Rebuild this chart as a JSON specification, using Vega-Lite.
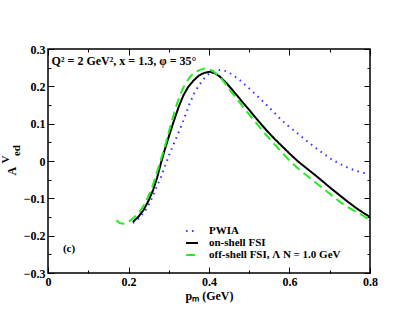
{
  "$schema": "https://vega.github.io/schema/vega-lite/v6.json",
  "width": 322,
  "height": 224,
  "autosize": "none",
  "padding": {"left": 48, "top": 49, "right": 47, "bottom": 49},
  "background": "white",
  "config": {
    "view": {"stroke": "black", "strokeWidth": 1.5},
    "font": "Liberation Serif",
    "axis": {
      "labelFont": "Liberation Serif", "labelFontWeight": "bold", "labelFontSize": 12, "labelColor": "black",
      "titleFont": "Liberation Serif", "titleFontWeight": "bold", "titleFontSize": 12, "titleColor": "black",
      "domain": false, "grid": false, "tickColor": "black", "tickWidth": 1
    }
  },
  "datasets": {
    "curves": [
      {"p": 0.211, "A": -0.166, "model": "PWIA"},
      {"p": 0.216, "A": -0.163, "model": "PWIA"},
      {"p": 0.229, "A": -0.150, "model": "PWIA"},
      {"p": 0.245, "A": -0.128, "model": "PWIA"},
      {"p": 0.258, "A": -0.100, "model": "PWIA"},
      {"p": 0.270, "A": -0.069, "model": "PWIA"},
      {"p": 0.280, "A": -0.045, "model": "PWIA"},
      {"p": 0.290, "A": -0.016, "model": "PWIA"},
      {"p": 0.303, "A": 0.022, "model": "PWIA"},
      {"p": 0.320, "A": 0.065, "model": "PWIA"},
      {"p": 0.332, "A": 0.096, "model": "PWIA"},
      {"p": 0.343, "A": 0.128, "model": "PWIA"},
      {"p": 0.353, "A": 0.157, "model": "PWIA"},
      {"p": 0.365, "A": 0.185, "model": "PWIA"},
      {"p": 0.377, "A": 0.206, "model": "PWIA"},
      {"p": 0.390, "A": 0.224, "model": "PWIA"},
      {"p": 0.404, "A": 0.237, "model": "PWIA"},
      {"p": 0.419, "A": 0.243, "model": "PWIA"},
      {"p": 0.432, "A": 0.244, "model": "PWIA"},
      {"p": 0.444, "A": 0.240, "model": "PWIA"},
      {"p": 0.460, "A": 0.230, "model": "PWIA"},
      {"p": 0.477, "A": 0.216, "model": "PWIA"},
      {"p": 0.494, "A": 0.200, "model": "PWIA"},
      {"p": 0.510, "A": 0.184, "model": "PWIA"},
      {"p": 0.527, "A": 0.167, "model": "PWIA"},
      {"p": 0.543, "A": 0.150, "model": "PWIA"},
      {"p": 0.560, "A": 0.132, "model": "PWIA"},
      {"p": 0.576, "A": 0.114, "model": "PWIA"},
      {"p": 0.597, "A": 0.094, "model": "PWIA"},
      {"p": 0.618, "A": 0.076, "model": "PWIA"},
      {"p": 0.638, "A": 0.058, "model": "PWIA"},
      {"p": 0.659, "A": 0.040, "model": "PWIA"},
      {"p": 0.684, "A": 0.020, "model": "PWIA"},
      {"p": 0.705, "A": 0.004, "model": "PWIA"},
      {"p": 0.726, "A": -0.008, "model": "PWIA"},
      {"p": 0.747, "A": -0.019, "model": "PWIA"},
      {"p": 0.767, "A": -0.027, "model": "PWIA"},
      {"p": 0.785, "A": -0.032, "model": "PWIA"},
      {"p": 0.800, "A": -0.035, "model": "PWIA"},

      {"p": 0.211, "A": -0.163, "model": "on-shell FSI"},
      {"p": 0.224, "A": -0.150, "model": "on-shell FSI"},
      {"p": 0.237, "A": -0.132, "model": "on-shell FSI"},
      {"p": 0.249, "A": -0.108, "model": "on-shell FSI"},
      {"p": 0.261, "A": -0.078, "model": "on-shell FSI"},
      {"p": 0.271, "A": -0.045, "model": "on-shell FSI"},
      {"p": 0.280, "A": -0.008, "model": "on-shell FSI"},
      {"p": 0.290, "A": 0.030, "model": "on-shell FSI"},
      {"p": 0.300, "A": 0.065, "model": "on-shell FSI"},
      {"p": 0.312, "A": 0.105, "model": "on-shell FSI"},
      {"p": 0.324, "A": 0.143, "model": "on-shell FSI"},
      {"p": 0.336, "A": 0.175, "model": "on-shell FSI"},
      {"p": 0.348, "A": 0.198, "model": "on-shell FSI"},
      {"p": 0.361, "A": 0.215, "model": "on-shell FSI"},
      {"p": 0.375, "A": 0.229, "model": "on-shell FSI"},
      {"p": 0.388, "A": 0.236, "model": "on-shell FSI"},
      {"p": 0.402, "A": 0.239, "model": "on-shell FSI"},
      {"p": 0.415, "A": 0.235, "model": "on-shell FSI"},
      {"p": 0.427, "A": 0.226, "model": "on-shell FSI"},
      {"p": 0.443, "A": 0.209, "model": "on-shell FSI"},
      {"p": 0.460, "A": 0.188, "model": "on-shell FSI"},
      {"p": 0.480, "A": 0.162, "model": "on-shell FSI"},
      {"p": 0.502, "A": 0.134, "model": "on-shell FSI"},
      {"p": 0.522, "A": 0.108, "model": "on-shell FSI"},
      {"p": 0.543, "A": 0.082, "model": "on-shell FSI"},
      {"p": 0.564, "A": 0.058, "model": "on-shell FSI"},
      {"p": 0.585, "A": 0.036, "model": "on-shell FSI"},
      {"p": 0.601, "A": 0.019, "model": "on-shell FSI"},
      {"p": 0.622, "A": -0.002, "model": "on-shell FSI"},
      {"p": 0.643, "A": -0.020, "model": "on-shell FSI"},
      {"p": 0.664, "A": -0.038, "model": "on-shell FSI"},
      {"p": 0.684, "A": -0.056, "model": "on-shell FSI"},
      {"p": 0.705, "A": -0.075, "model": "on-shell FSI"},
      {"p": 0.726, "A": -0.093, "model": "on-shell FSI"},
      {"p": 0.747, "A": -0.111, "model": "on-shell FSI"},
      {"p": 0.767, "A": -0.127, "model": "on-shell FSI"},
      {"p": 0.785, "A": -0.140, "model": "on-shell FSI"},
      {"p": 0.800, "A": -0.150, "model": "on-shell FSI"},

      {"p": 0.170, "A": -0.159, "model": "off-shell"},
      {"p": 0.178, "A": -0.166, "model": "off-shell"},
      {"p": 0.187, "A": -0.168, "model": "off-shell"},
      {"p": 0.200, "A": -0.163, "model": "off-shell"},
      {"p": 0.215, "A": -0.150, "model": "off-shell"},
      {"p": 0.232, "A": -0.130, "model": "off-shell"},
      {"p": 0.245, "A": -0.105, "model": "off-shell"},
      {"p": 0.257, "A": -0.076, "model": "off-shell"},
      {"p": 0.268, "A": -0.040, "model": "off-shell"},
      {"p": 0.278, "A": -0.005, "model": "off-shell"},
      {"p": 0.290, "A": 0.037, "model": "off-shell"},
      {"p": 0.307, "A": 0.105, "model": "off-shell"},
      {"p": 0.318, "A": 0.145, "model": "off-shell"},
      {"p": 0.328, "A": 0.177, "model": "off-shell"},
      {"p": 0.340, "A": 0.205, "model": "off-shell"},
      {"p": 0.353, "A": 0.226, "model": "off-shell"},
      {"p": 0.365, "A": 0.238, "model": "off-shell"},
      {"p": 0.377, "A": 0.244, "model": "off-shell"},
      {"p": 0.390, "A": 0.248, "model": "off-shell"},
      {"p": 0.401, "A": 0.246, "model": "off-shell"},
      {"p": 0.413, "A": 0.238, "model": "off-shell"},
      {"p": 0.427, "A": 0.226, "model": "off-shell"},
      {"p": 0.440, "A": 0.208, "model": "off-shell"},
      {"p": 0.452, "A": 0.190, "model": "off-shell"},
      {"p": 0.473, "A": 0.161, "model": "off-shell"},
      {"p": 0.494, "A": 0.132, "model": "off-shell"},
      {"p": 0.515, "A": 0.105, "model": "off-shell"},
      {"p": 0.535, "A": 0.078, "model": "off-shell"},
      {"p": 0.556, "A": 0.053, "model": "off-shell"},
      {"p": 0.576, "A": 0.029, "model": "off-shell"},
      {"p": 0.601, "A": 0.000, "model": "off-shell"},
      {"p": 0.622, "A": -0.021, "model": "off-shell"},
      {"p": 0.643, "A": -0.039, "model": "off-shell"},
      {"p": 0.664, "A": -0.057, "model": "off-shell"},
      {"p": 0.684, "A": -0.074, "model": "off-shell"},
      {"p": 0.705, "A": -0.092, "model": "off-shell"},
      {"p": 0.726, "A": -0.110, "model": "off-shell"},
      {"p": 0.747, "A": -0.125, "model": "off-shell"},
      {"p": 0.767, "A": -0.137, "model": "off-shell"},
      {"p": 0.785, "A": -0.148, "model": "off-shell"},
      {"p": 0.800, "A": -0.158, "model": "off-shell"}
    ],
    "notes": [
      {"x": 0.009, "y": 0.268, "text": "Q² = 2 GeV², x = 1.3,  φ  = 35°", "size": "big"},
      {"x": 0.037, "y": -0.237, "text": "(c)", "size": "small"}
    ],
    "ylabel": [
      {"x": -0.089, "y": -0.027, "text": "A", "size": "big"},
      {"x": -0.104, "y": 0.004, "text": "V", "size": "small"},
      {"x": -0.077, "y": 0.028, "text": "ed", "size": "small"}
    ]
  },
  "layer": [
    {
      "data": {"name": "curves"},
      "mark": {"type": "line", "strokeWidth": 2, "clip": true},
      "encoding": {
        "x": {
          "field": "p", "type": "quantitative",
          "scale": {"domain": [0, 0.8], "nice": false, "zero": false},
          "axis": {
            "orient": "bottom", "title": "pₘ (GeV)", "titlePadding": 3,
            "values": [0, 0.1, 0.2, 0.3, 0.4, 0.5, 0.6, 0.7, 0.8],
            "labelExpr": "round(datum.value*10) % 2 == 1 ? '' : (datum.value == 0 ? '0' : format(datum.value, '.1f'))",
            "tickSize": {"condition": {"test": "round(datum.value*10) % 2 == 1", "value": -3}, "value": -6},
            "labelPadding": 9, "labelFlush": false
          }
        },
        "y": {
          "field": "A", "type": "quantitative",
          "scale": {"domain": [-0.3, 0.3], "nice": false, "zero": false},
          "axis": {
            "orient": "left", "title": null,
            "values": [-0.3, -0.25, -0.2, -0.15, -0.1, -0.05, 0, 0.05, 0.1, 0.15, 0.2, 0.25, 0.3],
            "labelExpr": "abs(round(datum.value*20)) % 2 == 1 ? '' : (datum.value == 0 ? '0' : format(datum.value, '.1f'))",
            "tickSize": {"condition": {"test": "abs(round(datum.value*20)) % 2 == 1", "value": -3}, "value": -6},
            "labelPadding": 9, "labelFlush": false
          }
        },
        "color": {
          "field": "model", "type": "nominal",
          "scale": {"domain": ["PWIA", "on-shell FSI", "off-shell"], "range": ["#3333ff", "#000000", "#22ee22"]},
          "legend": {
            "title": null, "orient": "none", "legendX": 137, "legendY": 175,
            "symbolType": "stroke", "symbolSize": 140, "symbolStrokeWidth": 2,
            "labelFont": "Liberation Serif", "labelFontWeight": "bold", "labelFontSize": 11, "labelColor": "black",
            "labelOffset": 10, "rowPadding": 0,
            "labelExpr": "datum.label == 'off-shell' ? 'off-shell FSI,  Λ N = 1.0 GeV' : datum.label"
          }
        },
        "strokeDash": {
          "field": "model", "type": "nominal",
          "scale": {"domain": ["PWIA", "on-shell FSI", "off-shell"], "range": [[1.5, 4.5], [1, 0], [9, 5]]},
          "legend": {
            "title": null, "orient": "none", "legendX": 137, "legendY": 175,
            "symbolType": "stroke", "symbolSize": 140, "symbolStrokeWidth": 2,
            "labelFont": "Liberation Serif", "labelFontWeight": "bold", "labelFontSize": 11, "labelColor": "black",
            "labelOffset": 10, "rowPadding": 0,
            "labelExpr": "datum.label == 'off-shell' ? 'off-shell FSI,  Λ N = 1.0 GeV' : datum.label"
          }
        }
      }
    },
    {
      "data": {"name": "notes"},
      "mark": {"type": "text", "align": "left", "baseline": "middle", "font": "Liberation Serif", "fontWeight": "bold", "color": "black"},
      "encoding": {
        "x": {"field": "x", "type": "quantitative",
          "axis": {
            "orient": "top", "title": null, "labels": false,
            "values": [0, 0.1, 0.2, 0.3, 0.4, 0.5, 0.6, 0.7, 0.8],
            "tickSize": {"condition": {"test": "round(datum.value*10) % 2 == 1", "value": -3}, "value": -6}
          }
        },
        "y": {"field": "y", "type": "quantitative",
          "axis": {
            "orient": "right", "title": null, "labels": false,
            "values": [-0.3, -0.25, -0.2, -0.15, -0.1, -0.05, 0, 0.05, 0.1, 0.15, 0.2, 0.25, 0.3],
            "tickSize": {"condition": {"test": "abs(round(datum.value*20)) % 2 == 1", "value": -3}, "value": -6}
          }
        },
        "text": {"field": "text"},
        "size": {"field": "size", "type": "nominal", "scale": {"domain": ["big", "small"], "range": [12, 11]}, "legend": null}
      }
    },
    {
      "data": {"name": "ylabel"},
      "mark": {"type": "text", "align": "center", "baseline": "middle", "angle": 270, "font": "Liberation Serif", "fontWeight": "bold", "color": "black"},
      "encoding": {
        "x": {"field": "x", "type": "quantitative", "axis": null},
        "y": {"field": "y", "type": "quantitative", "axis": null},
        "text": {"field": "text"},
        "size": {"field": "size", "type": "nominal", "scale": {"domain": ["big", "small"], "range": [14, 9]}, "legend": null}
      }
    }
  ],
  "resolve": {"axis": {"x": "independent", "y": "independent"}}
}
